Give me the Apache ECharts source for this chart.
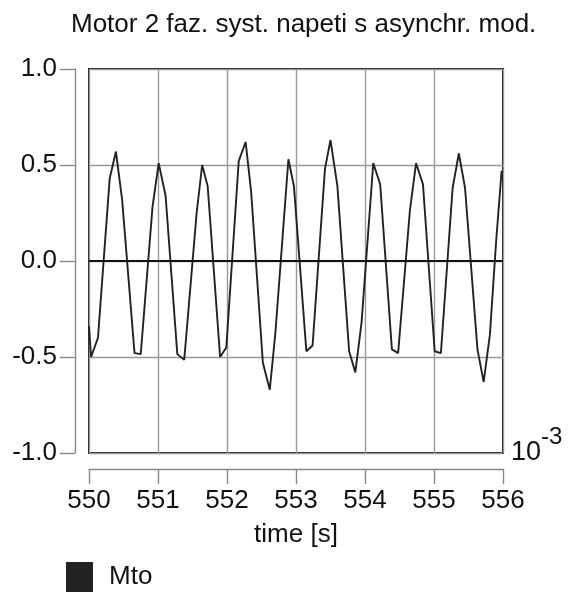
<!DOCTYPE html>
<html>
<head>
<meta charset="utf-8">
<script src="https://cdn.jsdelivr.net/npm/echarts@6/dist/echarts.min.js"></script>
<style>
html,body{margin:0;padding:0;background:#fff;}
#chart{width:572px;height:592px;}
</style>
</head>
<body>
<div id="chart"></div>
<script>
// time axis in 10^-3 s
var timeMs = [550.00,550.03,550.13,550.30,550.39,550.48,550.66,550.75,550.92,551.01,
  551.11,551.28,551.38,551.56,551.64,551.72,551.90,551.99,552.17,552.27,
  552.35,552.52,552.62,552.70,552.89,552.97,553.15,553.24,553.42,553.50,
  553.60,553.77,553.86,553.95,554.12,554.22,554.39,554.48,554.65,554.74,
  554.84,555.01,555.10,555.27,555.36,555.45,555.63,555.72,555.81,555.90,555.98];
var mto = [-0.34,-0.50,-0.40,0.43,0.57,0.32,-0.48,-0.485,0.28,0.51,
  0.34,-0.485,-0.515,0.25,0.50,0.39,-0.50,-0.45,0.52,0.62,
  0.36,-0.53,-0.67,-0.38,0.53,0.39,-0.47,-0.44,0.48,0.63,
  0.39,-0.47,-0.58,-0.32,0.51,0.40,-0.46,-0.48,0.26,0.51,
  0.40,-0.47,-0.48,0.38,0.56,0.38,-0.46,-0.63,-0.385,0.10,0.47];
var xRange = [550, 556];
var yRange = [-1.0, 1.0];

var font = 'Liberation Sans, Arial, sans-serif';
var chart = echarts.init(document.getElementById('chart'));

var points = timeMs.map(function(t, i){ return [t, mto[i]]; });

var option = {
    animation:false,
    textStyle:{fontFamily:font},
    title:{
        text:'Motor 2 faz. syst. napeti s asynchr. mod.',
        left:66, top:7,
        textStyle:{fontSize:26, fontWeight:'normal', color:'#111', fontFamily:font}
    },
    legend:{
        left:66, top:562, padding:0,
        icon:'rect', itemWidth:27, itemHeight:30,
        textStyle:{fontSize:26, color:'#111', fontFamily:font, padding:[0,0,0,11]},
        data:['Mto']
    },
    grid:{
        left:89, top:69, width:414, height:384,
        show:true, borderColor:'#1a1a1a', borderWidth:2, backgroundColor:'transparent'
    },
    xAxis:[
        {
            type:'value', min:xRange[0], max:xRange[1], interval:1,
            axisLine:{show:false}, axisTick:{show:false}, axisLabel:{show:false},
            splitLine:{show:true, lineStyle:{color:'#999', width:1.4}}
        },
        {
            type:'value', min:xRange[0], max:xRange[1], interval:1,
            position:'bottom', offset:16,
            axisLine:{show:true, onZero:false, lineStyle:{color:'#888', width:1.4}},
            axisTick:{show:true, length:15, lineStyle:{color:'#888', width:1.4}},
            axisLabel:{fontSize:26, color:'#111', margin:19, fontFamily:font},
            splitLine:{show:false},
            name:'time [s]', nameLocation:'middle', nameGap:53,
            nameTextStyle:{fontSize:26, color:'#111', fontFamily:font}
        }
    ],
    yAxis:[
        {
            type:'value', min:yRange[0], max:yRange[1], interval:0.5,
            axisLine:{show:false}, axisTick:{show:false}, axisLabel:{show:false},
            splitLine:{show:true, lineStyle:{color:'#999', width:1.4}}
        },
        {
            type:'value', min:yRange[0], max:yRange[1], interval:0.5,
            position:'left', offset:14,
            axisLine:{show:true, onZero:false, lineStyle:{color:'#888', width:1.4}},
            axisTick:{show:true, length:15, lineStyle:{color:'#888', width:1.4}},
            axisLabel:{fontSize:26, color:'#111', margin:18, fontFamily:font,
                formatter:function(v){ return v.toFixed(1); }},
            splitLine:{show:false}
        }
    ],
    graphic:[
        {type:'text', left:511, top:439, style:{text:'10', fontSize:27, fill:'#111', fontFamily:font}},
        {type:'text', left:541, top:425, style:{text:'-3', fontSize:24, fill:'#111', fontFamily:font}}
    ],
    series:[
        {
            name:'Mto', type:'line', data:points,
            xAxisIndex:0, yAxisIndex:0,
            showSymbol:false, symbol:'none',
            lineStyle:{color:'#222', width:1.9},
            itemStyle:{color:'#222'},
            markLine:{
                silent:true, symbol:'none', label:{show:false},
                lineStyle:{color:'#111', width:2.2, type:'solid'},
                data:[{yAxis:0}]
            }
        }
    ]
};
chart.setOption(option);
</script>
</body>
</html>
